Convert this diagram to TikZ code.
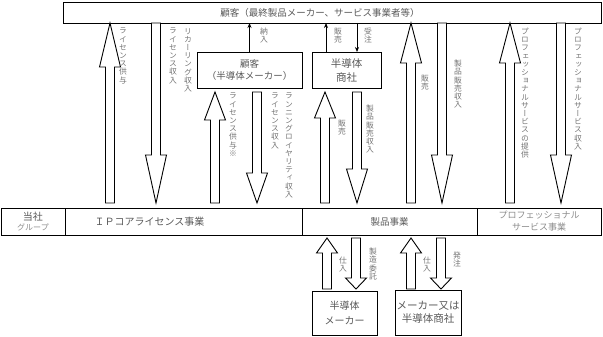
\documentclass[tikz,border=0pt]{standalone}
\usepackage{fontspec}
\setmainfont{Noto Sans CJK JP}
\newfontfamily\vjp[RawFeature=+vert]{Noto Sans CJK JP}
\usetikzlibrary{arrows.meta,calc,positioning}
\makeatletter
\newcommand\vlab[1]{\vbox{\baselineskip=8.2pt\lineskiplimit=-20pt\vjp\vl@loop#1\relax}}
\def\vl@loop#1{\ifx\relax#1\else\hbox to 8pt{\hss#1\hss}\expandafter\vl@loop\fi}
\makeatother
\newcommand\barr[3]{\draw[blk] let \p1=#1, \p2=#2, \n1={\y2-sign(\y2-\y1)*#3} in
  (\x1-4.5pt,\y1) -- (\x1-4.5pt,\n1) -- (\x1-10.5pt,\n1) -- (\x1,\y2) -- (\x1+10.5pt,\n1) -- (\x1+4.5pt,\n1) -- (\x1+4.5pt,\y1) -- cycle;}

\begin{document}
\begin{tikzpicture}[x=1pt,y=-1pt,
  box/.style={draw,line width=0.9pt,anchor=north west,inner sep=0pt,outer sep=0pt,align=center,text=black!65,font=\fontsize{9.5}{12}\selectfont},
  blk/.style={draw,line width=0.9pt,fill=white,line join=miter},
  vl/.style={anchor=north,inner sep=0pt,text=black!55,font=\fontsize{7.8}{8}\selectfont},
  feed/.style={line width=0.8pt,-{Stealth[length=5pt,width=4pt]}}]
\useasboundingbox (0,0) rectangle (603,337);
\node[box,minimum width=538pt,minimum height=21pt] (cust) at (63,2) {顧客（最終製品メーカー、サービス事業者等）\hspace*{24pt}};
\node[box,minimum width=105pt,minimum height=36pt] (csemi) at (197,52) {顧客\\（半導体メーカー）};
\node[box,minimum width=69pt,minimum height=36pt,font=\fontsize{10.5}{14}\selectfont] (dist) at (312,52) {半導体\\商社};
\node[box,minimum width=64pt,minimum height=27pt,font=\fontsize{10}{10}\selectfont] (grp) at (1,208) {当社\\{\fontsize{8}{9}\selectfont\color{black!45}グループ}};
\node[box,minimum width=237pt,minimum height=27pt,font=\fontsize{10}{12}\selectfont] (ipbiz) at (grp.north east) {ＩＰコアライセンス事業\hspace*{68pt}};
\node[box,minimum width=175pt,minimum height=27pt] (prodbiz) at (ipbiz.north east) {製品事業};
\node[box,minimum width=124pt,minimum height=27pt,font=\fontsize{9}{12}\selectfont,text=black!45] (probiz) at (prodbiz.north east) {プロフェッショナル\\サービス事業};
\node[box,minimum width=65pt,minimum height=44pt,font=\fontsize{10}{15}\selectfont] (maker) at (312,291) {半導体\\メーカー};
\node[box,minimum width=66pt,minimum height=45pt,font=\fontsize{10.5}{13}\selectfont] (vendor) at (395,290) {メーカー又は\\半導体商社};
\coordinate (lowT) at ($(ipbiz.north)+(0,-5)$);
\coordinate (midT) at ($(csemi.south)+(0,4)$);
\coordinate (rowB) at ($(ipbiz.south)+(0,3)$);
\coordinate (boxT) at ($(maker.north)+(0,-2)$);
\barr{(110,0 |- lowT)}{(110,0 |- cust.south)}{44}
\barr{(156,0 |- cust.south)}{(156,0 |- lowT)}{48}
\barr{(215,0 |- lowT)}{(215,0 |- midT)}{28}
\barr{(257,0 |- midT)}{(257,0 |- lowT)}{30}
\barr{(325,0 |- lowT)}{(325,0 |- midT)}{26}
\barr{(357,0 |- midT)}{(357,0 |- lowT)}{34}
\barr{(411,0 |- lowT)}{(411,0 |- cust.south)}{40}
\barr{(442,0 |- cust.south)}{(442,0 |- lowT)}{48}
\barr{(510,0 |- lowT)}{(510,0 |- cust.south)}{40}
\barr{(561,0 |- cust.south)}{(561,0 |- lowT)}{48}
\barr{(327,0 |- boxT)}{(327,0 |- rowB)}{15}
\barr{(356,0 |- rowB)}{(356,0 |- boxT)}{11}
\barr{(411,0 |- boxT)}{(411,0 |- rowB)}{15}
\barr{(441,0 |- rowB)}{(441,0 |- boxT)}{11}
\draw[feed] (csemi.north) -- (csemi.north |- cust.south);
\draw[feed] (326,0 |- dist.north) -- (326,0 |- cust.south);
\draw[feed] (357,0 |- cust.south) -- (357,0 |- dist.north);
\node[vl] (licout) at (123,28) {\vlab{ライセンス供与}};
\node[vl] (licin) at (173,28) {\vlab{ライセンス収入}};
\node[vl] (recin) at (188,28) {\vlab{リカーリング収入}};
\node[vl] (deliv) at (264,28) {\vlab{納入}};
\node[vl] (licoutB) at (233,93) {\vlab{ライセンス供与※}};
\node[vl] (licinB) at (275,93) {\vlab{ライセンス収入}};
\node[vl] (royin) at (289,93) {\vlab{ランニングロイヤリティ収入}};
\node[vl] (saleA) at (338,28) {\vlab{販売}};
\node[vl] (order) at (368,28) {\vlab{受注}};
\node[vl] (saleB) at (342,120) {\vlab{販売}};
\node[vl] (prodinB) at (370,105) {\vlab{製品販売収入}};
\node[vl] (saleC) at (425,75) {\vlab{販売}};
\node[vl] (prodinC) at (458,60) {\vlab{製品販売収入}};
\node[vl] (proout) at (525,28) {\vlab{プロフェッショナルサービスの提供}};
\node[vl] (proin) at (578,28) {\vlab{プロフェッショナルサービス収入}};
\node[vl] (buyA) at (343,257) {\vlab{仕入}};
\node[vl] (fab) at (373,248) {\vlab{製造委託}};
\node[vl] (buyB) at (427,257) {\vlab{仕入}};
\node[vl] (porder) at (457,252) {\vlab{発注}};
\end{tikzpicture}
\end{document}
